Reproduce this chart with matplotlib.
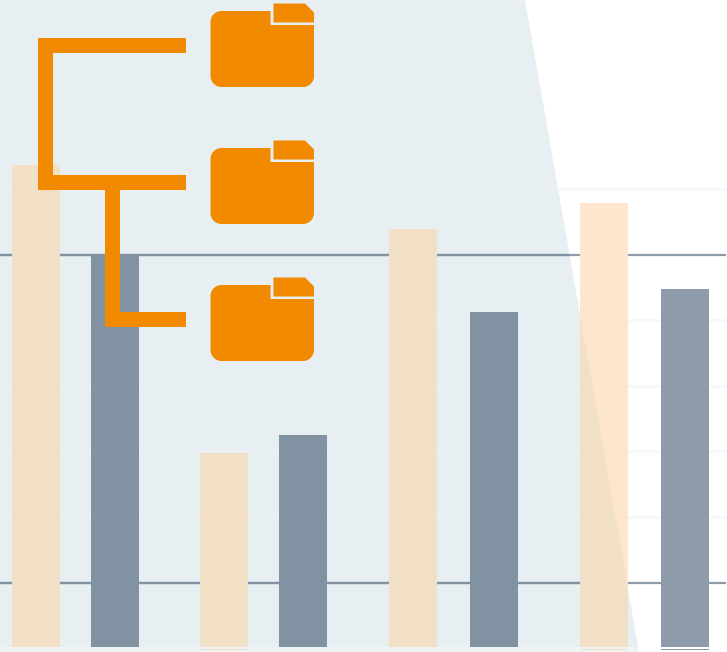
import matplotlib
matplotlib.use('Agg')
import matplotlib.pyplot as plt
from matplotlib.patches import Polygon, Rectangle, PathPatch
from matplotlib.path import Path

# bar heights in pixels above the base line, pairs per group
bar_left = [12, 91, 200, 279, 389, 470, 580, 661]
bar_height = [482, 392, 194, 212, 418, 335, 444, 358]
bar_tint = ['#f2e0c6', '#8192a3', '#f2e0c6', '#8192a3', '#f2e0c6', '#8192a3', '#f2e0c6', '#8e9bab']
bar_plain = ['#fde6cd', '#8e9bab', '#fde6cd', '#8e9bab', '#fde6cd', '#8e9bab', '#fde6cd', '#8e9bab']
major_lines = [255, 583]
minor_lines = [189, 320, 386, 451, 517]
sliver_bars = [2, 6, 7]

BASE = 647
W, H = 727, 652
ORANGE = '#f28a00'

fig = plt.figure(figsize=(W / 100, H / 100), dpi=100)
ax = fig.add_axes([0, 0, 1, 1])
ax.set_xlim(0, W)
ax.set_ylim(H, 0)
ax.axis('off')

# tinted background wedge
wedge = Polygon([(0, 0), (525, 0), (639, 652), (0, 652)], fc='#e7eff3', ec='none', zorder=1)
ax.add_patch(wedge)

for y in minor_lines:
    ax.plot([0, 726], [y, y], color='#eef2f5', alpha=0.55, lw=2, solid_capstyle='butt', zorder=2)
for y in major_lines:
    ax.plot([0, 726], [y, y], color='#8e9bab', lw=1.6, solid_capstyle='butt', zorder=2)
    inner = ax.plot([0, 726], [y, y], color='#8192a3', lw=1.6, solid_capstyle='butt', zorder=2.1)[0]
    inner.set_clip_path(wedge)

# bars, plain colour first then the tinted colour clipped to the wedge
for x, h, c1, c2 in zip(bar_left, bar_height, bar_plain, bar_tint):
    ax.bar(x, -h, width=48, bottom=BASE, align='edge', color=c1, zorder=3)
    tinted = ax.bar(x, -h, width=48, bottom=BASE, align='edge', color=c2, zorder=3.1)
    for p in tinted:
        p.set_clip_path(wedge)

# bottom strip
ax.add_patch(Rectangle((0, BASE), W, 5, fc='white', alpha=0.3, ec='none', zorder=4))
for i in sliver_bars:
    ax.add_patch(Rectangle((bar_left[i], 649), 48, 1, fc=bar_tint[i], ec='none', zorder=5))

# connector lines
for x, y, w, h in [(38, 37.5, 15, 152.5), (38, 37.5, 148, 15.5), (38, 175, 148, 15),
                   (105, 190, 15, 137), (105, 312, 81, 15)]:
    ax.add_patch(Rectangle((x, y), w, h, fc=ORANGE, ec='none', zorder=6))


def folder(dy):
    r = 11
    k = 0.55 * r
    L, R, T, B = 210.5, 314, 11 + dy, 87 + dy
    verts = [(L + r, T), (270.5, T), (270.5, T + 14), (R, T + 14), (R, B - r),
             (R, B - r + k), (R - r + k, B), (R - r, B), (L + r, B),
             (L + r - k, B), (L, B - r + k), (L, B - r), (L, T + r),
             (L, T + r - k), (L + r - k, T), (L + r, T), (L + r, T)]
    codes = [Path.MOVETO, Path.LINETO, Path.LINETO, Path.LINETO, Path.LINETO,
             Path.CURVE4, Path.CURVE4, Path.CURVE4, Path.LINETO,
             Path.CURVE4, Path.CURVE4, Path.CURVE4, Path.LINETO,
             Path.CURVE4, Path.CURVE4, Path.CURVE4, Path.CLOSEPOLY]
    ax.add_patch(PathPatch(Path(verts, codes), fc=ORANGE, ec='none', zorder=6))
    # small tab with a cut corner
    ax.add_patch(Polygon([(273.5, 3.5 + dy), (305, 3.5 + dy), (314, 12.5 + dy),
                          (314, 22.5 + dy), (273.5, 22.5 + dy)],
                         fc=ORANGE, ec='none', zorder=6))


for dy in [0, 137, 274]:
    folder(dy)

fig.savefig('out.png', dpi=100)
